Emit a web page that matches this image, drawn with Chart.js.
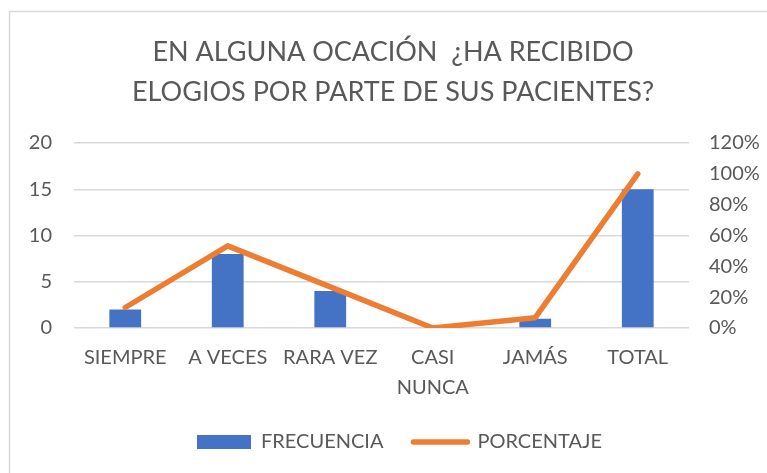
<!DOCTYPE html>
<html>
<head>
<meta charset="utf-8">
<script src="https://cdn.jsdelivr.net/npm/chart.js@4/dist/chart.umd.min.js"></script>
<style>
  html, body { margin: 0; padding: 0; background: #fff; }
  #wrap { width: 767px; height: 473px; }
</style>
</head>
<body>
<div id="wrap"><canvas id="chartCanvas" width="767" height="473"></canvas></div>
<script>
var categories = ['SIEMPRE', 'A VECES', 'RARA VEZ', ['CASI', 'NUNCA'], 'JAMÁS', 'TOTAL'];
var frecuencia = [2, 8, 4, 0, 1, 15];
var porcentaje = [13.3, 53.3, 26.7, 0, 6.7, 100];
var titleLines = ['EN ALGUNA OCACIÓN  ¿HA RECIBIDO', 'ELOGIOS POR PARTE DE SUS PACIENTES?'];

var textColor = '#595959';
var gridColor = '#D9D9D9';
var blue = '#4472C4';
var orange = '#ED7D31';
var fontFamily = 'Lato, "Open Sans", sans-serif';

// thin frame like the one around the office chart
var framePlugin = {
    id: 'frame',
    afterLayout: function(chart) {
        // title and legend sit a bit right of the canvas centre
        chart.titleBlock.left += 19;
        chart.legend.left += 32;
    },
    beforeDraw: function(chart) {
        var ctx = chart.ctx;
        ctx.save();
        ctx.fillStyle = '#fff';
        ctx.fillRect(0, 0, chart.width, chart.height);
        ctx.strokeStyle = '#D9D9D9';
        ctx.lineWidth = 1.5;
        ctx.beginPath();
        ctx.moveTo(9.5, chart.height);
        ctx.lineTo(9.5, 11.5);
        ctx.lineTo(chart.width, 11.5);
        ctx.stroke();
        ctx.restore();
    }
};

var ctx = document.getElementById('chartCanvas').getContext('2d');
var myChart = new Chart(ctx, {
    data: {
        labels: categories,
        datasets: [
            {
                type: 'line',
                label: 'PORCENTAJE',
                data: porcentaje,
                yAxisID: 'y1',
                borderColor: orange,
                backgroundColor: orange,
                borderWidth: 5.5,
                tension: 0,
                pointRadius: 0,
                borderJoinStyle: 'round',
                borderCapStyle: 'round',
                order: 0
            },
            {
                type: 'bar',
                label: 'FRECUENCIA',
                data: frecuencia,
                yAxisID: 'y',
                backgroundColor: blue,
                barPercentage: 0.31,
                categoryPercentage: 1,
                order: 1
            }
        ]
    },
    options: {
        responsive: false,
        animation: false,
        layout: { padding: { left: 0, right: 0, top: 0, bottom: 11 } },
        plugins: {
            title: {
                display: true,
                text: titleLines,
                color: textColor,
                font: { family: fontFamily, size: 27, weight: 'normal', lineHeight: 1.5 },
                padding: { top: 32, bottom: 30 }
            },
            legend: {
                position: 'bottom',
                labels: {
                    color: textColor,
                    font: { family: fontFamily, size: 20 },
                    usePointStyle: true,
                    pointStyleWidth: 54,
                    boxHeight: 14,
                    padding: 30,
                    generateLabels: function() {
                        return [
                            { text: 'FRECUENCIA', pointStyle: 'rect', fillStyle: blue, strokeStyle: blue, lineWidth: 0, fontColor: textColor, datasetIndex: 1 },
                            { text: 'PORCENTAJE', pointStyle: 'line', fillStyle: orange, strokeStyle: orange, lineWidth: 5.5, lineCap: 'round', fontColor: textColor, datasetIndex: 0 }
                        ];
                    }
                }
            },
            tooltip: { enabled: false }
        },
        scales: {
            x: {
                grid: { display: false },
                border: { display: false },
                ticks: { color: textColor, font: { family: fontFamily, size: 20, lineHeight: 1.5 }, maxRotation: 0, autoSkip: false, padding: 7 },
                afterFit: function(scale) { scale.height = 74; }
            },
            y: {
                position: 'left',
                min: 0,
                max: 20,
                ticks: { stepSize: 5, color: textColor, font: { family: fontFamily, size: 20 }, padding: 22 },
                grid: { color: gridColor, lineWidth: 1.5, drawTicks: false },
                border: { display: false },
                afterFit: function(scale) { scale.width = 74; }
            },
            y1: {
                position: 'right',
                min: 0,
                max: 120,
                ticks: {
                    stepSize: 20,
                    color: textColor,
                    font: { family: fontFamily, size: 20 },
                    padding: 20,
                    callback: function(v) { return v + '%'; }
                },
                grid: { display: false, drawTicks: false },
                border: { display: false },
                afterFit: function(scale) { scale.width = 78; }
            }
        }
    },
    plugins: [framePlugin]
});
</script>
</body>
</html>
